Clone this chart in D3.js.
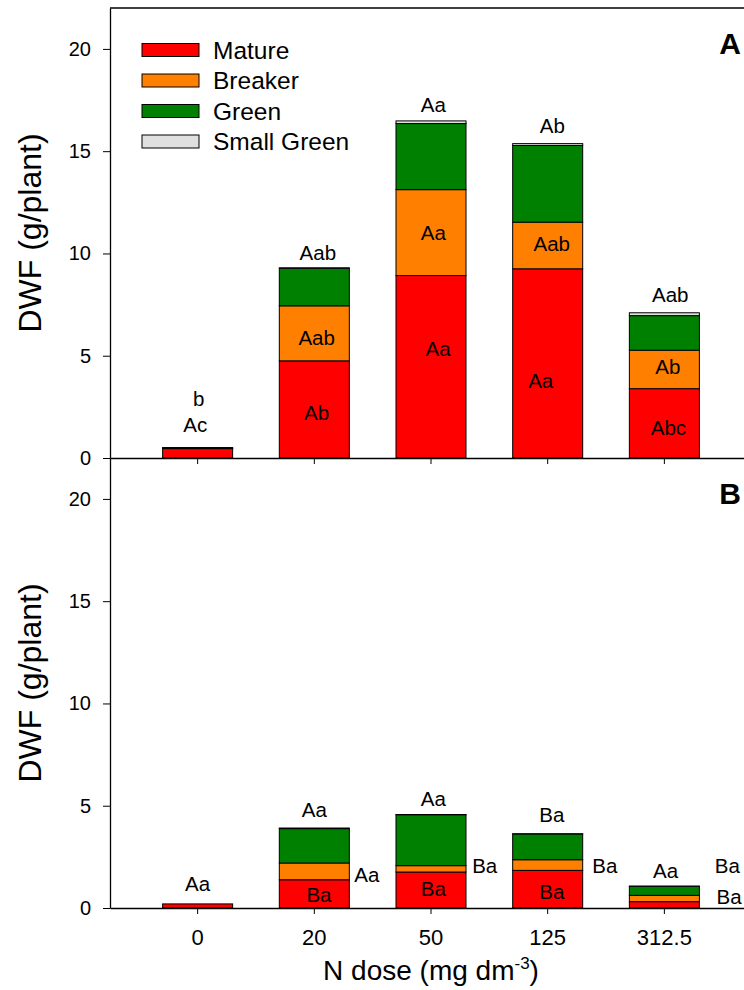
<!DOCTYPE html>
<html>
<head>
<meta charset="utf-8">
<script src="https://cdn.jsdelivr.net/npm/d3@7"></script>
<style>
  html, body { margin: 0; padding: 0; background: #fff; }
  svg { display: block; font-family: "Liberation Sans", Arial, sans-serif; }
</style>
</head>
<body>
<svg id="chart" width="744" height="990"></svg>
<script>
// N doses (mg dm-3) on the x axis
const categories = ["0", "20", "50", "125", "312.5"];
const stages = ["Mature", "Breaker", "Green", "Small Green"];
const stageColors = ["#ff0000", "#ff8000", "#008000", "#e0e0e0"];
const yTicks = [0, 5, 10, 15, 20];

// Panel A: dry weight of fruits per ripening stage (g/plant)
const panelAMature = [0.46, 4.75, 8.92, 9.25, 3.39];
const panelABreaker = [0.01, 2.69, 4.20, 2.28, 1.88];
const panelAGreen = [0.03, 1.83, 3.23, 3.75, 1.69];
const panelASmallGreen = [0.01, 0.03, 0.13, 0.09, 0.14];

// Panel B: dry weight of fruits per ripening stage (g/plant)
const panelBMature = [0.20, 1.38, 1.76, 1.84, 0.31];
const panelBBreaker = [0.00, 0.82, 0.31, 0.52, 0.31];
const panelBGreen = [0.00, 1.68, 2.49, 1.26, 0.44];
const panelBSmallGreen = [0.00, 0.03, 0.01, 0.01, 0.01];

// Significance letters: [dose, letters, height (g/plant), horizontal shift in bar steps]
const panelALetters = [
  ["0", "b", 2.89, 0.01], ["0", "Ac", 1.66, -0.02],
  ["20", "Aab", 10.06, 0.03], ["20", "Aab", 5.87, 0.02], ["20", "Ab", 2.23, 0.02],
  ["50", "Aa", 17.29, 0.02], ["50", "Aa", 11.01, 0.02], ["50", "Aa", 5.35, 0.06],
  ["125", "Ab", 16.27, 0.04], ["125", "Aab", 10.47, 0.035], ["125", "Aa", 3.78, -0.06],
  ["312.5", "Aab", 7.99, 0.05], ["312.5", "Ab", 4.45, 0.03], ["312.5", "Abc", 1.47, 0.035]
];
const panelBLetters = [
  ["0", "Aa", 1.22, 0.0],
  ["20", "Aa", 4.84, 0.0], ["20", "Aa", 1.66, 0.45], ["20", "Ba", 0.65, 0.04],
  ["50", "Aa", 5.33, 0.02], ["50", "Ba", 2.07, 0.46], ["50", "Ba", 0.93, 0.02],
  ["125", "Ba", 4.56, 0.035], ["125", "Ba", 2.07, 0.49], ["125", "Ba", 0.81, 0.035],
  ["312.5", "Aa", 1.84, 0.01], ["312.5", "Ba", 2.07, 0.54], ["312.5", "Ba", 0.54, 0.555]
];

const panels = [
  { key: "A", series: [panelAMature, panelABreaker, panelAGreen, panelASmallGreen], letters: panelALetters, top: 8 },
  { key: "B", series: [panelBMature, panelBBreaker, panelBGreen, panelBSmallGreen], letters: panelBLetters, top: 458 }
];

const svg = d3.select("#chart");
const left = 110, plotRight = 752, panelH = 450;
const FONT = '"Liberation Sans", Arial, sans-serif';

const x = d3.scaleBand()
  .domain(categories)
  .range([left, plotRight])
  .paddingInner(0.4)
  .paddingOuter(0.451);

panels.forEach((p, pi) => {
  const y = d3.scaleLinear().domain([0, 22]).range([p.top + panelH, p.top]);
  const g = svg.append("g");

  // stack the stages for each dose
  const rows = categories.map((c, i) => {
    const r = { dose: c };
    stages.forEach((s, k) => { r[s] = p.series[k][i]; });
    return r;
  });
  const stacked = d3.stack().keys(stages)(rows);

  g.selectAll("g.layer")
    .data(stacked)
    .join("g")
    .attr("class", "layer")
    .attr("fill", (d, k) => stageColors[k])
    .selectAll("rect")
    .data(d => d)
    .join("rect")
    .attr("x", d => x(d.data.dose))
    .attr("width", x.bandwidth())
    .attr("y", d => y(d[1]))
    .attr("height", d => Math.max(0, y(d[0]) - y(d[1])))
    .attr("stroke", "#000")
    .attr("stroke-width", 1);

  // frame top line for the upper panel
  if (pi === 0) {
    g.append("line")
      .attr("x1", left).attr("x2", plotRight)
      .attr("y1", p.top).attr("y2", p.top)
      .attr("stroke", "#000").attr("stroke-width", 1.3);
  }

  // y axis
  const yAxis = d3.axisLeft(y).tickValues(yTicks).tickSize(7).tickSizeOuter(0).tickPadding(12);
  const ya = g.append("g").attr("transform", `translate(${left},0)`).call(yAxis);
  ya.select(".domain").attr("stroke", "#000").attr("stroke-width", 1.3);
  ya.selectAll(".tick line").attr("stroke", "#000");
  ya.selectAll(".tick text").attr("font-size", 20).attr("font-family", FONT).attr("fill", "#000");

  // x axis (labels only under the lower panel)
  const xAxis = d3.axisBottom(x).tickSize(6).tickSizeOuter(0).tickPadding(15);
  const xa = g.append("g").attr("transform", `translate(0,${p.top + panelH})`).call(xAxis);
  xa.select(".domain").attr("stroke", "#000").attr("stroke-width", 1.3);
  xa.selectAll(".tick line").attr("stroke", "#000");
  xa.selectAll(".tick text").attr("font-size", 22).attr("font-family", FONT).attr("fill", "#000")
    .style("display", pi === 1 ? null : "none");

  // y title
  svg.append("text")
    .attr("transform", `translate(30,${p.top + panelH / 2}) rotate(-90)`)
    .attr("text-anchor", "middle")
    .attr("dominant-baseline", "central")
    .attr("font-size", 32)
    .attr("font-family", FONT)
    .text("DWF (g/plant)");

  // panel letter
  svg.append("text")
    .attr("x", 730).attr("y", p.top + 46)
    .attr("text-anchor", "middle")
    .attr("font-size", 30)
    .attr("font-weight", "bold")
    .attr("font-family", FONT)
    .text(p.key);

  // significance letters
  g.selectAll("text.sig")
    .data(p.letters)
    .join("text")
    .attr("class", "sig")
    .attr("x", d => x(d[0]) + x.bandwidth() / 2 + d[3] * x.step())
    .attr("y", d => y(d[2]))
    .attr("text-anchor", "middle")
    .attr("dominant-baseline", "central")
    .attr("font-size", 20.5)
    .attr("font-family", FONT)
    .text(d => d[1]);
});

// legend
const legend = svg.append("g").attr("transform", "translate(142,50)");
stages.forEach((s, k) => {
  const row = legend.append("g").attr("transform", `translate(0,${k * 30.5})`);
  row.append("rect")
    .attr("x", 0).attr("y", -6.5).attr("width", 57).attr("height", 13)
    .attr("fill", stageColors[k]).attr("stroke", "#000").attr("stroke-width", 1);
  row.append("text")
    .attr("x", 71).attr("y", 0)
    .attr("dominant-baseline", "central")
    .attr("font-size", 24.5)
    .attr("font-family", FONT)
    .text(s);
});

// x title with superscript
const xt = svg.append("text")
  .attr("x", 431).attr("y", 980)
  .attr("text-anchor", "middle")
  .attr("font-size", 28)
  .attr("font-family", FONT);
xt.append("tspan").text("N dose (mg dm");
xt.append("tspan").attr("font-size", 17).attr("dy", -11).text("-3");
xt.append("tspan").attr("dy", 11).text(")");
</script>
</body>
</html>
